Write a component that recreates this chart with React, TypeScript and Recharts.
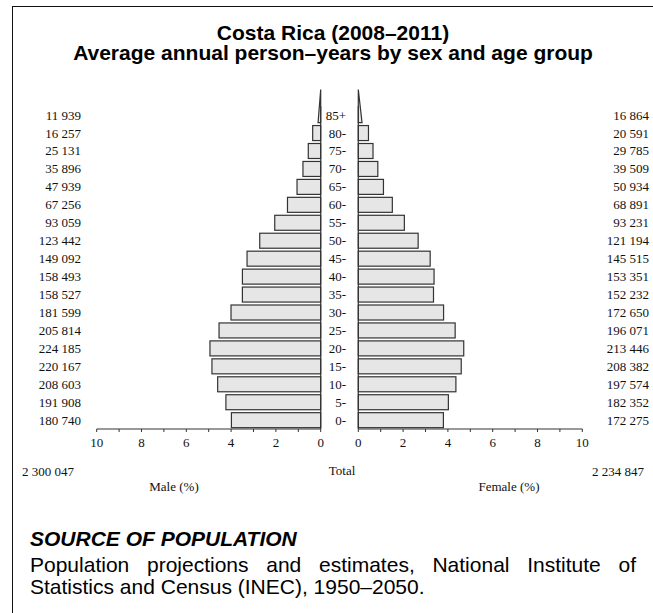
import React from 'react';
import { BarChart, Bar, XAxis, YAxis, ReferenceLine } from 'recharts';

const ageGroups = ['85+', '80-', '75-', '70-', '65-', '60-', '55-', '50-', '45-', '40-', '35-', '30-', '25-', '20-', '15-', '10-', '5-', '0-'];
const maleCounts = ['11 939', '16 257', '25 131', '35 896', '47 939', '67 256', '93 059', '123 442', '149 092', '158 493', '158 527', '181 599', '205 814', '224 185', '220 167', '208 603', '191 908', '180 740'];
const femaleCounts = ['16 864', '20 591', '29 785', '39 509', '50 934', '68 891', '93 231', '121 194', '145 515', '153 351', '152 232', '172 650', '196 071', '213 446', '208 382', '197 574', '182 352', '172 275'];
const malePercent = [0.263, 0.358, 0.554, 0.792, 1.057, 1.483, 2.052, 2.722, 3.288, 3.495, 3.496, 4.004, 4.538, 4.944, 4.855, 4.6, 4.232, 3.986];
const femalePercent = [0.372, 0.454, 0.657, 0.871, 1.123, 1.519, 2.056, 2.672, 3.209, 3.382, 3.357, 3.807, 4.324, 4.707, 4.595, 4.357, 4.021, 3.799];
const axisTicks = [0, 1, 2, 3, 4, 5, 6, 7, 8, 9, 10];
const totalMale = '2 300 047';
const totalFemale = '2 234 847';

const data = ageGroups.map((age, i) => ({
  age,
  maleLabel: maleCounts[i],
  femaleLabel: femaleCounts[i],
  male: malePercent[i],
  female: femalePercent[i],
}));

const SERIF = '"Liberation Serif", "DejaVu Serif", serif';
const SANS = '"Liberation Sans", Arial, sans-serif';
const FILL = '#e6e6e6';
const STROKE = '#333';

const evenFmt = (v: number) => (v % 2 === 0 ? String(v) : '');

// The open-ended top group (85+) is drawn as a tall thin wedge, as in the reference.
function makeShape(side: 'male' | 'female') {
  return (props: any) => {
    const { x, y, width, height, index } = props;
    const left = Math.min(x, x + width);
    const right = Math.max(x, x + width);
    if (index === 0) {
      const w = (right - left) * 0.45;
      const zero = side === 'male' ? right : left;
      const outer = side === 'male' ? zero - w : zero + w;
      const bottom = y + height;
      const top = y - height - 3;
      return (
        <polygon
          points={`${zero},${top} ${zero},${bottom} ${outer},${bottom}`}
          fill={FILL}
          stroke={STROKE}
          strokeWidth={1.2}
        />
      );
    }
    return (
      <rect x={left} y={y} width={right - left} height={height} fill={FILL} stroke={STROKE} strokeWidth={1.2} />
    );
  };
}

const RightCountTick = (props: any) => {
  const { x, y, payload } = props;
  return (
    <text x={x + 66.7} y={y} dy="0.355em" textAnchor="end" fontFamily={SERIF} fontSize={13} fill="#111">
      {payload.value}
    </text>
  );
};

export default function App() {
  const tickStyle = { fontFamily: SERIF, fontSize: 13, fill: '#111' };
  return (
    <div style={{ position: 'absolute', left: 0, top: 0, width: 653, height: 613, background: '#fff', overflow: 'hidden' }}>
      <div style={{ position: 'absolute', left: 12, top: 6, width: 700, height: 700, borderLeft: '1px solid #111', borderTop: '1px solid #111' }} />
      <div
        style={{
          position: 'absolute', left: 0, top: 23, width: 666, textAlign: 'center',
          fontFamily: SANS, fontWeight: 'bold', fontSize: 21, lineHeight: '20px', color: '#000',
        }}
      >
        Costa Rica (2008–2011)
        <br />
        Average annual person–years by sex and age group
      </div>

      <div style={{ position: 'absolute', left: 0, top: 0 }}>
        <BarChart
          width={340}
          height={480}
          data={data}
          layout="vertical"
          margin={{ top: 106, right: 19.3, left: 36.7, bottom: 21 }}
          barCategoryGap="9%"
        >
          <XAxis
            type="number"
            domain={[0, 10]}
            reversed
            ticks={axisTicks}
            interval={0}
            tickFormatter={evenFmt}
            tickSize={3}
            tickMargin={5.8}
            height={30}
            stroke={STROKE}
            tick={tickStyle}
          />
          <YAxis
            type="category"
            dataKey="maleLabel"
            width={60}
            interval={0}
            axisLine={false}
            tickLine={false}
            tickSize={0}
            tickMargin={15.7}
            tick={tickStyle}
          />
          <ReferenceLine x={0} stroke={STROKE} strokeWidth={1.2} />
          <Bar dataKey="male" isAnimationActive={false} shape={makeShape('male')} />
        </BarChart>
      </div>

      <div style={{ position: 'absolute', left: 320, top: 0 }}>
        <BarChart
          width={333}
          height={480}
          data={data}
          layout="vertical"
          margin={{ top: 106, right: 0, left: 0, bottom: 21 }}
          barCategoryGap="9%"
        >
          <XAxis
            type="number"
            domain={[0, 10]}
            ticks={axisTicks}
            interval={0}
            tickFormatter={evenFmt}
            tickSize={3}
            tickMargin={5.8}
            height={30}
            stroke={STROKE}
            tick={tickStyle}
          />
          <YAxis
            yAxisId="age"
            type="category"
            dataKey="age"
            orientation="left"
            width={38.3}
            interval={0}
            axisLine={false}
            tickLine={false}
            tickSize={0}
            tickMargin={12.3}
            tick={tickStyle}
          />
          <YAxis
            yAxisId="cnt"
            type="category"
            dataKey="femaleLabel"
            orientation="right"
            width={70.7}
            interval={0}
            axisLine={false}
            tickLine={false}
            tickSize={0}
            tickMargin={0}
            tick={<RightCountTick />}
          />
          <ReferenceLine x={0} yAxisId="age" stroke={STROKE} strokeWidth={1.2} />
          <Bar dataKey="female" yAxisId="age" isAnimationActive={false} shape={makeShape('female')} />
        </BarChart>
      </div>

      <div style={{ position: 'absolute', left: 22, top: 464, fontFamily: SERIF, fontSize: 13, lineHeight: '16px', color: '#111' }}>{totalMale}</div>
      <div style={{ position: 'absolute', left: 292, width: 100, top: 463, textAlign: 'center', fontFamily: SERIF, fontSize: 13, lineHeight: '16px', color: '#111' }}>Total</div>
      <div style={{ position: 'absolute', right: 653 - 644, top: 464, fontFamily: SERIF, fontSize: 13, lineHeight: '16px', color: '#111', textAlign: 'right' }}>{totalFemale}</div>
      <div style={{ position: 'absolute', left: 124, width: 100, top: 479, textAlign: 'center', fontFamily: SERIF, fontSize: 13, lineHeight: '16px', color: '#111' }}>Male (%)</div>
      <div style={{ position: 'absolute', left: 459, width: 100, top: 479, textAlign: 'center', fontFamily: SERIF, fontSize: 13, lineHeight: '16px', color: '#111' }}>Female (%)</div>

      <div style={{ position: 'absolute', left: 30, top: 528, fontFamily: SANS, fontWeight: 'bold', fontStyle: 'italic', fontSize: 21, lineHeight: '22px', color: '#000' }}>
        SOURCE OF POPULATION
      </div>
      <div style={{ position: 'absolute', left: 30, top: 554, width: 606, fontFamily: SANS, fontSize: 21, lineHeight: '22px', color: '#000', textAlign: 'justify' }}>
        Population projections and estimates, National Institute of Statistics and Census (INEC), 1950–2050.
      </div>
    </div>
  );
}
